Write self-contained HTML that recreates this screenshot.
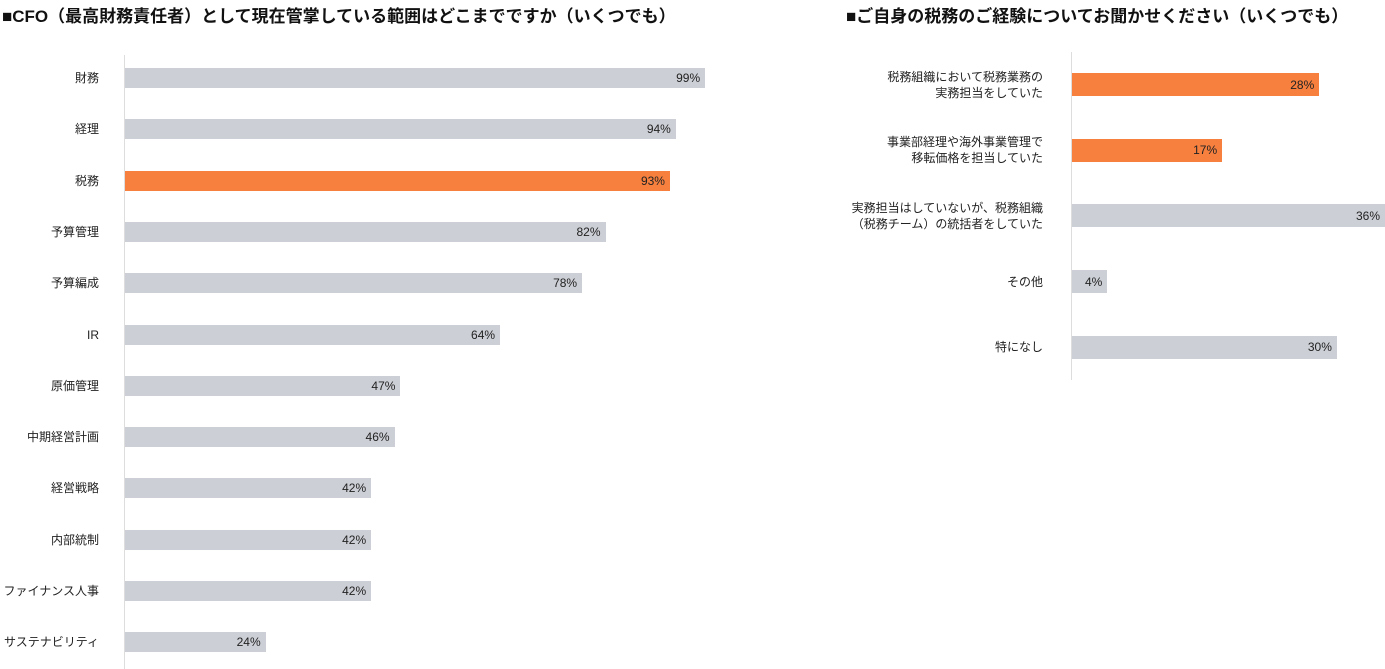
<!DOCTYPE html>
<html><head><meta charset="utf-8"><style>
body{margin:0;width:1385px;height:669px;overflow:hidden;background:#fff;font-family:"Liberation Sans","Noto Sans CJK JP",sans-serif;color:#222;position:relative}
.t{position:absolute;font-weight:bold;font-size:17px;top:2px;white-space:nowrap;color:#111}
.ax{position:absolute;width:1px;background:#ddd}
.b{position:absolute;background:#cccfd5}
.o{background:#f7803f}
.v{position:absolute;font-size:12px;text-align:right;white-space:nowrap}
.l{position:absolute;font-size:12px;text-align:right;white-space:nowrap;line-height:16px}
</style></head><body>
<div class="t" style="left:2px">■CFO（最高財務責任者）として現在管掌している範囲はどこまでですか（いくつでも）</div>
<div class="t" style="left:846px">■ご自身の税務のご経験についてお聞かせください（いくつでも）</div>
<div class="ax" style="left:124px;top:55px;height:614px"></div>
<div class="ax" style="left:1071px;top:52px;height:328px"></div>
<div id="L"></div><div id="R"></div>
<script>
var L=[["財務",99],["経理",94],["税務",93,1],["予算管理",82],["予算編成",78],["IR",64],["原価管理",47],["中期経営計画",46],["経営戦略",42],["内部統制",42],["ファイナンス人事",42],["サステナビリティ",24]];
var h="";
L.forEach(function(d,i){var c=78+i*51.3,w=d[1]*5.86;
h+='<div class="l" style="right:'+(1385-99)+'px;top:'+(c-8)+'px">'+d[0]+'</div>';
h+='<div class="b'+(d[2]?' o':'')+'" style="left:125px;top:'+(c-10)+'px;width:'+w+'px;height:20px"></div>';
h+='<div class="v" style="right:'+(1385-125-w+5)+'px;top:'+(c-7)+'px">'+d[1]+'%</div>';});
var R=[["税務組織において税務業務の<br>実務担当をしていた",28,1],["事業部経理や海外事業管理で<br>移転価格を担当していた",17,1],["実務担当はしていないが、税務組織<br>（税務チーム）の統括者をしていた",36],["その他",4],["特になし",30]];
R.forEach(function(d,i){var c=84.5+i*65.7,w=d[1]*8.83,two=d[0].indexOf("<br>")>0;
h+='<div class="l" style="right:'+(1385-1043)+'px;top:'+(c-(two?16:8))+'px">'+d[0]+'</div>';
h+='<div class="b'+(d[2]?' o':'')+'" style="left:1072px;top:'+(c-11.5)+'px;width:'+w+'px;height:23px"></div>';
h+='<div class="v" style="right:'+Math.max(5,1385-1072-w+5)+'px;top:'+(c-7)+'px">'+d[1]+'%</div>';});
document.getElementById("L").innerHTML=h;
</script>
</body></html>
